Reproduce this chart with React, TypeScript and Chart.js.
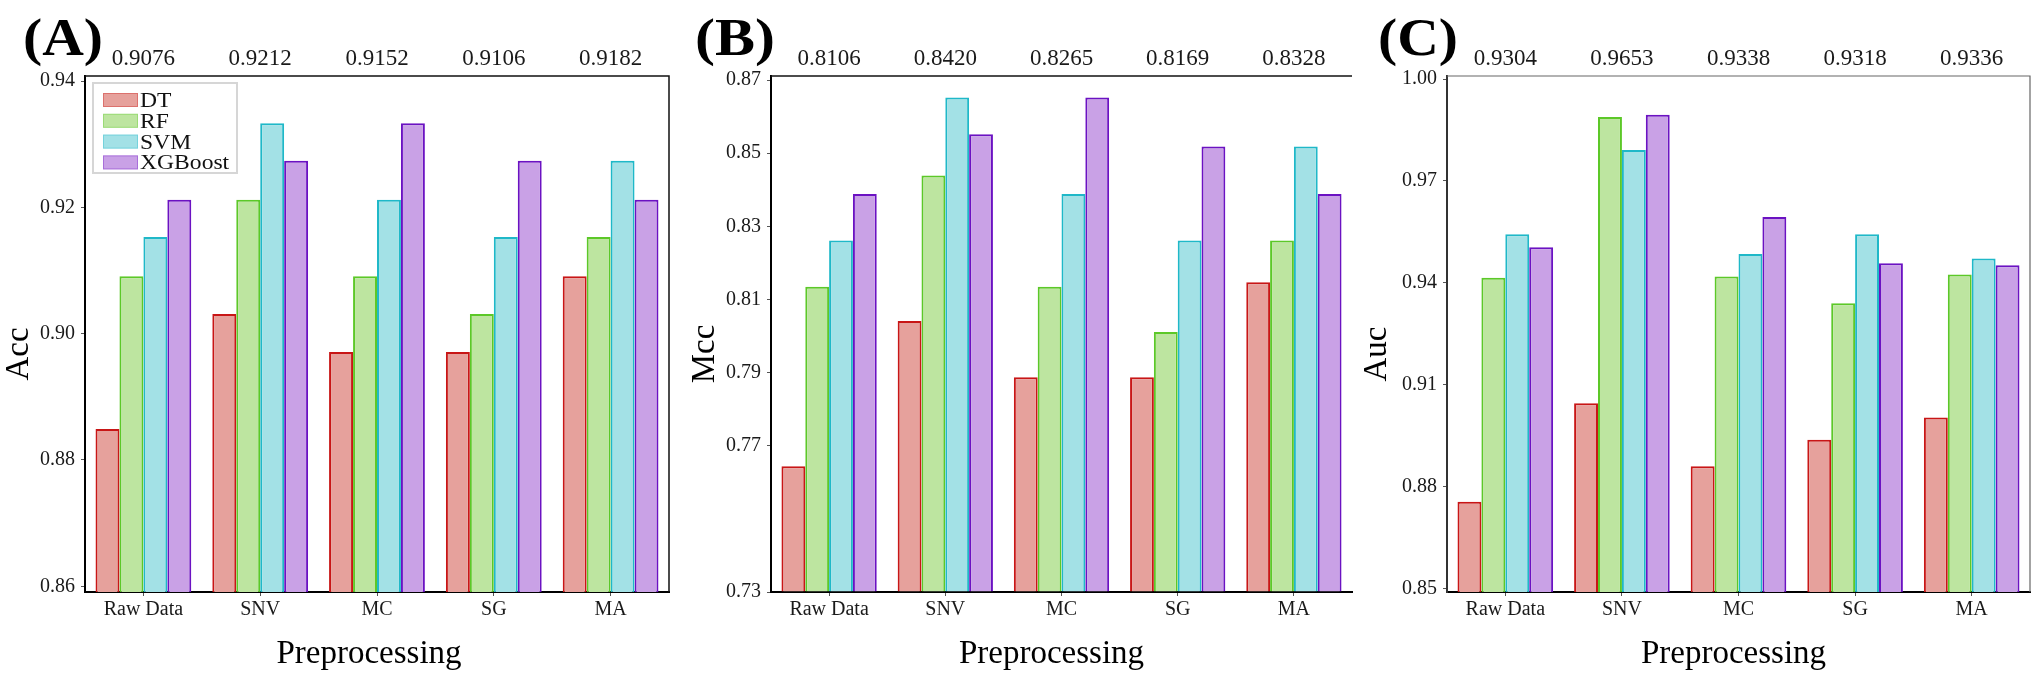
import React, { useEffect, useRef } from 'react';
import { Chart, registerables } from 'chart.js';

Chart.register(...registerables);

const FONT = '"Liberation Serif", "Times New Roman", Times, serif';

// ---------- data ----------
const categories = ['Raw Data', 'SNV', 'MC', 'SG', 'MA'];
const models = ['DT', 'RF', 'SVM', 'XGBoost'];

const accDT = [0.8849, 0.9031, 0.8971, 0.8971, 0.9091];
const accRF = [0.9091, 0.9212, 0.9091, 0.9031, 0.9153];
const accSVM = [0.9153, 0.9333, 0.9212, 0.9153, 0.9274];
const accXGB = [0.9212, 0.9274, 0.9333, 0.9274, 0.9212];
const accMean = [0.9076, 0.9212, 0.9152, 0.9106, 0.9182];
const accTicks = [0.86, 0.88, 0.9, 0.92, 0.94];

const mccDT = [0.7644, 0.8041, 0.7887, 0.7887, 0.8147];
const mccRF = [0.8135, 0.8439, 0.8135, 0.8011, 0.8261];
const mccSVM = [0.8261, 0.8652, 0.8388, 0.8261, 0.8518];
const mccXGB = [0.8388, 0.8552, 0.8652, 0.8518, 0.8388];
const mccMean = [0.8106, 0.842, 0.8265, 0.8169, 0.8328];
const mccTicks = [0.73, 0.77, 0.79, 0.81, 0.83, 0.85, 0.87];

const aucDT = [0.8756, 0.9046, 0.886, 0.8938, 0.9004];
const aucRF = [0.9415, 0.9888, 0.9419, 0.934, 0.9425];
const aucSVM = [0.9543, 0.9791, 0.9485, 0.9543, 0.9472];
const aucXGB = [0.9505, 0.9895, 0.9594, 0.9458, 0.9452];
const aucMean = [0.9304, 0.9653, 0.9338, 0.9318, 0.9336];
const aucTicks = [0.85, 0.88, 0.91, 0.94, 0.97, 1.0];

// ---------- styles ----------
const fills = ['#e6a19c', '#bde5a0', '#a3e1e6', '#c9a1e6'];
const borders = ['#c81616', '#5cc828', '#1fb8c8', '#6b12c2'];

type Panel = {
  key: string;
  label: string;
  yTitle: string;
  series: number[][];
  means: number[];
  ticks: number[];
  yMin: number;
  yMax: number;
  left: number;
  width: number;
  plotLeft: number;
  plotRight: number;
  yTitleX: number;
  xTitleShift: number;
  labelX: number;
  frame: 'A' | 'B' | 'C';
  legend: boolean;
  yAxisColor: string;
};

const panels: Panel[] = [
  {
    key: 'A', label: '(A)', yTitle: 'Acc', series: [accDT, accRF, accSVM, accXGB], means: accMean,
    ticks: accTicks, yMin: 0.8591, yMax: 0.9408, left: 0, width: 680, plotLeft: 85, plotRight: 669,
    yTitleX: 19, xTitleShift: -8, labelX: 23, frame: 'A', legend: true, yAxisColor: '#000',
  },
  {
    key: 'B', label: '(B)', yTitle: 'Mcc', series: [mccDT, mccRF, mccSVM, mccXGB], means: mccMean,
    ticks: mccTicks, yMin: 0.73, yMax: 0.8711, left: 680, width: 680, plotLeft: 91, plotRight: 672,
    yTitleX: 25, xTitleShift: -10, labelX: 15, frame: 'B', legend: false, yAxisColor: '#000',
  },
  {
    key: 'C', label: '(C)', yTitle: 'Auc', series: [aucDT, aucRF, aucSVM, aucXGB], means: aucMean,
    ticks: aucTicks, yMin: 0.849, yMax: 1.0009, left: 1360, width: 679, plotLeft: 87, plotRight: 670,
    yTitleX: 17, xTitleShift: -5, labelX: 18, frame: 'C', legend: false, yAxisColor: '#333',
  },
];

function makeOverlay(p: Panel) {
  return {
    id: 'overlay' + p.key,
    afterDraw(chart: any) {
      const { ctx, chartArea } = chart;
      const xs = chart.scales.x;
      const { left, right, top, bottom } = chartArea;
      ctx.save();

      // frame lines
      if (p.frame === 'A') {
        ctx.strokeStyle = '#111';
        ctx.lineWidth = 1.5;
        ctx.beginPath();
        ctx.moveTo(left, top);
        ctx.lineTo(right, top);
        ctx.lineTo(right, bottom);
        ctx.stroke();
      } else if (p.frame === 'B') {
        ctx.strokeStyle = '#111';
        ctx.lineWidth = 1.5;
        ctx.beginPath();
        ctx.moveTo(left, top);
        ctx.lineTo(right, top);
        ctx.stroke();
      } else {
        ctx.strokeStyle = '#666';
        ctx.lineWidth = 1.2;
        ctx.beginPath();
        ctx.moveTo(left, top);
        ctx.lineTo(right, top);
        ctx.lineTo(right, bottom);
        ctx.stroke();
      }

      // mean values above each group
      ctx.fillStyle = '#1a1a1a';
      ctx.font = `23px ${FONT}`;
      ctx.textAlign = 'center';
      ctx.textBaseline = 'alphabetic';
      p.means.forEach((m, i) => {
        ctx.fillText(m.toFixed(4), xs.getPixelForValue(i), top - 11);
      });

      // panel label
      ctx.fillStyle = '#000';
      ctx.font = `bold 52px ${FONT}`;
      ctx.textAlign = 'left';
      const lw = ctx.measureText(p.label).width;
      ctx.save();
      ctx.translate(p.labelX, 55);
      ctx.scale(80 / lw, 1);
      ctx.fillText(p.label, 0, 0);
      ctx.restore();

      // y title
      ctx.fillStyle = '#000';
      ctx.font = `33px ${FONT}`;
      ctx.save();
      ctx.translate(p.yTitleX, 354);
      ctx.rotate(-Math.PI / 2);
      ctx.textAlign = 'center';
      ctx.textBaseline = 'middle';
      ctx.fillText(p.yTitle, 0, 0);
      ctx.restore();

      // x title
      ctx.textAlign = 'center';
      ctx.textBaseline = 'alphabetic';
      ctx.fillText('Preprocessing', (left + right) / 2 + p.xTitleShift, 663);

      // legend
      if (p.legend) {
        const lx = left + 8;
        const ly = top + 7;
        ctx.fillStyle = '#fff';
        ctx.fillRect(lx, ly, 144, 90);
        ctx.strokeStyle = '#d6d6d6';
        ctx.lineWidth = 2;
        ctx.strokeRect(lx, ly, 144, 90);
        const ds = chart.data.datasets;
        ds.forEach((d: any, i: number) => {
          const cy = ly + 17 + i * 20.8;
          ctx.fillStyle = d.backgroundColor;
          ctx.fillRect(lx + 10, cy - 7, 35, 14);
          ctx.globalAlpha = 0.35;
          ctx.strokeStyle = d.borderColor;
          ctx.lineWidth = 1;
          ctx.strokeRect(lx + 10.5, cy - 6.5, 34, 13);
          ctx.globalAlpha = 1;
          ctx.fillStyle = '#111';
          ctx.font = `20px ${FONT}`;
          ctx.textAlign = 'left';
          ctx.textBaseline = 'alphabetic';
          ctx.save();
          ctx.translate(lx + 47, cy + 7);
          ctx.scale(1.18, 1);
          ctx.fillText(d.label, 0, 0);
          ctx.restore();
        });
      }
      ctx.restore();
    },
  };
}

function PanelChart({ p }: { p: Panel }) {
  const ref = useRef<HTMLCanvasElement | null>(null);
  useEffect(() => {
    if (!ref.current) return;
    const chart = new Chart(ref.current, {
      type: 'bar',
      data: {
        labels: categories,
        datasets: p.series.map((s, i) => ({
          label: models[i],
          data: s,
          backgroundColor: fills[i],
          borderColor: borders[i],
          borderWidth: 2,
          borderSkipped: 'start',
          base: p.yMin,
          categoryPercentage: 0.82,
          barPercentage: 1,
        })) as any,
      },
      options: {
        animation: false,
        responsive: false,
        maintainAspectRatio: false,
        layout: { padding: { top: 76, left: 0, right: p.width - p.plotRight, bottom: 0 } },
        plugins: { legend: { display: false }, tooltip: { enabled: false }, title: { display: false } },
        scales: {
          x: {
            type: 'category',
            offset: true,
            grid: { display: true, drawOnChartArea: false, offset: false, tickLength: 4, color: '#555' },
            border: { display: true, color: '#000', width: 2 },
            ticks: {
              font: { family: FONT, size: 20 },
              color: '#1a1a1a',
              padding: 2,
              maxRotation: 0,
              autoSkip: false,
            },
            afterFit: (s: any) => {
              s.height = 84;
            },
          },
          y: {
            type: 'linear',
            min: p.yMin,
            max: p.yMax,
            afterBuildTicks: (s: any) => {
              s.ticks = p.ticks.map((v) => ({ value: v }));
            },
            grid: { display: true, drawOnChartArea: false, tickLength: 4, color: '#555' },
            border: { display: true, color: p.yAxisColor, width: 2 },
            ticks: {
              font: { family: FONT, size: 20 },
              color: '#1a1a1a',
              padding: 6,
              callback: (v: any) => Number(v).toFixed(2),
            },
            afterFit: (s: any) => {
              s.width = p.plotLeft;
            },
          },
        },
      } as any,
      plugins: [makeOverlay(p)],
    });
    return () => chart.destroy();
  }, [p]);
  return (
    <div style={{ position: 'absolute', left: p.left, top: 0, width: p.width, height: 676 }}>
      <canvas ref={ref} width={p.width} height={676} style={{ display: 'block', width: p.width, height: 676 }} />
    </div>
  );
}

export default function App() {
  useEffect(() => {
    document.body.style.margin = '0';
    document.body.style.overflow = 'hidden';
    document.body.style.background = '#fff';
  }, []);
  return (
    <div style={{ position: 'absolute', left: 0, top: 0, width: 2039, height: 676, background: '#fff', overflow: 'hidden' }}>
      {panels.map((p) => (
        <PanelChart key={p.key} p={p} />
      ))}
    </div>
  );
}
